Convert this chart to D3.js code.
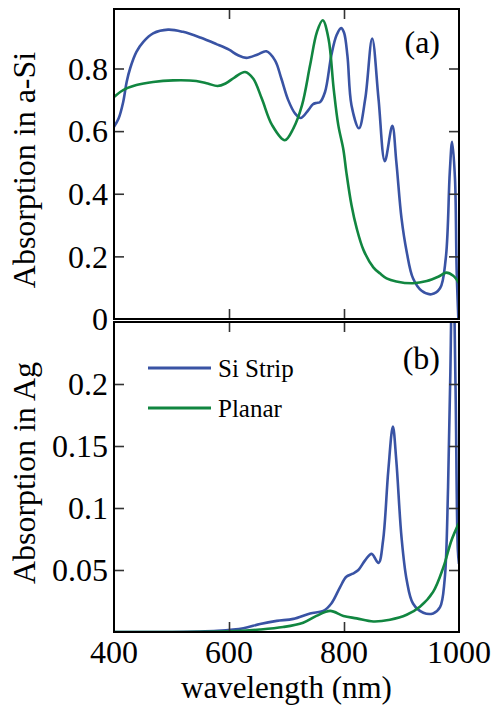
<!DOCTYPE html>
<html><head><meta charset="utf-8">
<script src="https://cdn.jsdelivr.net/npm/d3@7"></script>
<style>body{margin:0;background:#fff}svg{display:block}</style>
</head><body>
<script>
// wavelength (nm) and absorption values
const siStripA_wl = [400,408,416,422,428,439,451,468,494,520,550,578,600,615,630,650,665,680,691,703,715,725,738,746,752,758,767,778,787,795,800,806,813,826,837,849,860,871,884,891,900,909,920,935,952,967,977,984,988,993,996,1000];
const siStripA_v  = [0.614,0.640,0.693,0.757,0.800,0.853,0.885,0.912,0.924,0.917,0.899,0.878,0.860,0.843,0.834,0.845,0.855,0.826,0.768,0.699,0.656,0.642,0.667,0.686,0.690,0.692,0.725,0.842,0.906,0.929,0.915,0.840,0.683,0.609,0.704,0.896,0.704,0.504,0.617,0.502,0.322,0.215,0.130,0.090,0.079,0.098,0.194,0.470,0.566,0.449,0.151,-0.05];
const planarA_wl = [400,416,439,468,503,543,563,580,594,610,628,642,657,675,697,712,727,741,753,763,773,782,790,799,804,813,822,834,851,863,874,891,920,944,964,978,990,1000];
const planarA_v  = [0.709,0.731,0.747,0.757,0.762,0.760,0.752,0.744,0.752,0.772,0.789,0.768,0.704,0.619,0.571,0.609,0.683,0.810,0.917,0.954,0.896,0.736,0.620,0.540,0.470,0.364,0.290,0.220,0.165,0.145,0.130,0.120,0.114,0.121,0.135,0.148,0.138,0.115];
const siStripB_wl = [400,500,580,625,654,683,712,741,764,778,793,804,815,825,837,848,860,868,877,885,891,900,909,920,938,955,967,975,981,985,989,994,998,1000];
const siStripB_v  = [0,0,0.001,0.003,0.0065,0.009,0.0106,0.015,0.017,0.023,0.036,0.0445,0.047,0.050,0.058,0.063,0.0557,0.074,0.130,0.1656,0.138,0.0766,0.042,0.023,0.0155,0.015,0.020,0.042,0.117,0.21,0.32,0.197,0.066,0.055];
const planarB_wl = [400,500,600,654,694,729,752,776,799,822,851,880,909,932,955,973,987,1000];
const planarB_v  = [0,0,0.0005,0.002,0.004,0.0075,0.013,0.017,0.013,0.011,0.0085,0.0099,0.0139,0.0204,0.0324,0.0525,0.074,0.088];

const xTicks = [400,600,800,1000];
const yTicksA = [0,0.2,0.4,0.6,0.8];
const yTicksB = [0.05,0.1,0.15,0.2];
const seriesNames = ["Si Strip","Planar"];
const colors = ["#3953a4","#118640"];

const W=494,H=705;
const svg=d3.select("body").append("svg").attr("width",W).attr("height",H);
const font="Liberation Serif, Tinos, Times New Roman, DejaVu Serif, serif";

const x=d3.scaleLinear().domain([400,1000]).range([114,459]);
const yA=d3.scaleLinear().domain([0,0.99]).range([319,9]);
const yB=d3.scaleLinear().domain([0,0.25]).range([632,322]);

function zip(a,b){return a.map((d,i)=>[d,b[i]]);}

function panel(id,y,top,bottom,yTicks,yFmt,series,tag,tagY,ylabel,ylabelY){
  const g=svg.append("g");
  g.append("clipPath").attr("id",id).append("rect").attr("x",114).attr("y",top).attr("width",345).attr("height",bottom-top);
  const line=d3.line().x(d=>x(d[0])).y(d=>y(d[1])).curve(d3.curveCatmullRom.alpha(0.5));
  series.forEach((s,i)=>{
    g.append("path").attr("d",line(s)).attr("fill","none").attr("stroke",colors[i]).attr("stroke-width",2.6).attr("clip-path",`url(#${id})`);
  });
  const tl=10;
  g.append("g").attr("transform",`translate(0,${bottom})`).call(d3.axisBottom(x).tickValues([600,800]).tickSize(-tl).tickFormat("")).call(a=>a.select(".domain").remove());
  g.append("g").attr("transform",`translate(0,${top})`).call(d3.axisTop(x).tickValues([600,800]).tickSize(-tl).tickFormat("")).call(a=>a.select(".domain").remove());
  g.append("g").attr("transform",`translate(114,0)`).call(d3.axisLeft(y).tickValues(yTicks.filter(v=>v>0)).tickSize(-tl).tickFormat("")).call(a=>a.select(".domain").remove());
  g.append("g").attr("transform",`translate(459,0)`).call(d3.axisRight(y).tickValues(yTicks.filter(v=>v>0)).tickSize(-tl).tickFormat("")).call(a=>a.select(".domain").remove());
  g.selectAll(".tick line").attr("stroke","#333").attr("stroke-width",1.6);
  g.append("rect").attr("x",114).attr("y",top).attr("width",345).attr("height",bottom-top).attr("fill","none").attr("stroke","#000").attr("stroke-width",2);
  g.selectAll("text.yl").data(yTicks).enter().append("text").attr("class","yl")
    .attr("x",108).attr("y",d=>y(d)).attr("dy","0.35em").attr("text-anchor","end")
    .style("font-family",font).attr("font-size",32).text(yFmt);
  g.append("text").attr("x",440).attr("y",tagY).attr("text-anchor","end").style("font-family",font).attr("font-size",32).text(tag);
  g.append("text").attr("transform",`translate(35,${ylabelY}) rotate(-90)`).attr("text-anchor","middle")
    .style("font-family",font).attr("font-size",32).text(ylabel);
}

panel("cA",yA,9,319,yTicksA,d=>d===0?"0":d3.format(".1f")(d),
  [zip(siStripA_wl,siStripA_v),zip(planarA_wl,planarA_v)],"(a)",53,"Absorption in a-Si",170);
panel("cB",yB,322,632,yTicksB,d=>String(d),
  [zip(siStripB_wl,siStripB_v),zip(planarB_wl,planarB_v)],"(b)",369,"Absorption in Ag",473);

svg.selectAll("text.xl").data(xTicks).enter().append("text").attr("class","xl")
  .attr("x",d=>x(d)).attr("y",663).attr("text-anchor","middle")
  .style("font-family",font).attr("font-size",32).text(d=>d);
svg.append("text").attr("x",286.5).attr("y",698).attr("text-anchor","middle")
  .style("font-family",font).attr("font-size",31).text("wavelength (nm)");

const lg=svg.append("g");
seriesNames.forEach((n,i)=>{
  const yy=368+i*40;
  lg.append("line").attr("x1",148).attr("x2",211).attr("y1",yy).attr("y2",yy).attr("stroke",colors[i]).attr("stroke-width",3);
  lg.append("text").attr("x",218).attr("y",yy+9).style("font-family",font).attr("font-size",25).text(n);
});
</script>
</body></html>
